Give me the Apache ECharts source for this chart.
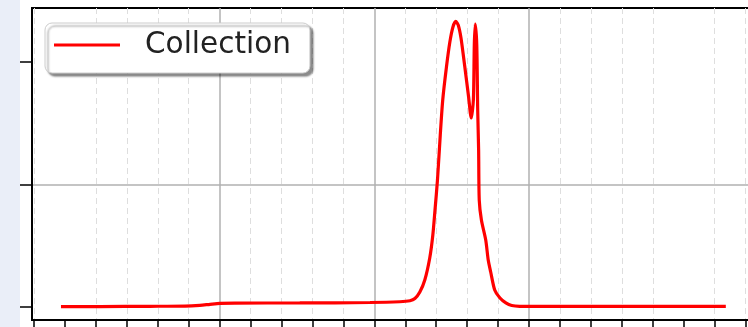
<!DOCTYPE html>
<html>
<head>
<meta charset="utf-8">
<script src="https://cdn.jsdelivr.net/npm/echarts@6/dist/echarts.min.js"></script>
<style>
  html, body { margin: 0; padding: 0; }
  body { background: linear-gradient(90deg, #eaeef8 0, #eaeef8 20px, #ffffff 20px); overflow: hidden; }
  #chart { width: 748px; height: 327px; }
</style>
</head>
<body>
<div id="chart"></div>
<script>
"use strict";
// curve
var xValues = [-0.13, 1.13, 2.75, 3.88, 4.36, 4.69, 5.01, 5.49, 7.59, 9.86, 10.82, 11.15, 11.31, 11.47,
    11.63, 11.79, 11.89, 11.96, 12.04, 12.13, 12.21, 12.33, 12.44, 12.54, 12.63, 12.71, 12.80, 12.92,
    13.05, 13.13, 13.20, 13.23, 13.26, 13.31, 13.34, 13.37, 13.39, 13.46, 13.60, 13.68, 13.76, 13.89,
    14.06, 14.25, 14.44, 14.70, 17.29, 21.36];
var yValues = [0.004, 0.004, 0.006, 0.008, 0.014, 0.022, 0.029, 0.032, 0.033, 0.037, 0.043, 0.051, 0.069, 0.122,
    0.220, 0.400, 0.588, 0.792, 1.037, 1.404, 1.690, 1.959, 2.163, 2.286, 2.331, 2.302, 2.196, 1.967,
    1.706, 1.543, 1.690, 2.139, 2.310, 2.139, 1.608, 1.282, 0.873, 0.710, 0.547, 0.384, 0.286, 0.139,
    0.073, 0.033, 0.012, 0.006, 0.005, 0.005];
var xMajorTicks = [0, 5, 10, 15, 20];
var yTicks = [0, 1, 2];
var seriesName = 'Collection';

var chart = echarts.init(document.getElementById('chart'), null, { renderer: 'canvas' });

var points = xValues.map(function (x, i) { return [x, yValues[i]]; });

var majorGrid = { show: true, showMinLine: false, showMaxLine: false, lineStyle: { color: '#b0b0b0', width: 1.5 } };

var option = {
    animation: false,
    grid: {
        left: 32, top: 8, width: 726, height: 312,
        outerBoundsMode: 'none',
        containLabel: false,
        show: true, backgroundColor: '#ffffff', borderColor: '#000000', borderWidth: 2
    },
    legend: {
        left: 45, top: 23,
        padding: [7, 19, 13, 9],
        icon: 'rect',
        itemWidth: 66, itemHeight: 3,
        backgroundColor: '#ffffff', borderColor: '#cccccc', borderWidth: 1, borderRadius: 7,
        shadowColor: 'rgba(0,0,0,0.45)', shadowBlur: 2, shadowOffsetX: 3, shadowOffsetY: 3,
        textStyle: { fontSize: 29.5, fontFamily: 'DejaVu Sans', color: '#222222', padding: [0, 0, 0, 20] },
        data: [seriesName]
    },
    xAxis: {
        type: 'value',
        min: -1.066, max: 22.4,
        minInterval: 5, maxInterval: 5,
        axisLine: { show: true, onZero: false, lineStyle: { color: '#000000', width: 2 } },
        axisTick: { show: true, customValues: xMajorTicks, length: 8, lineStyle: { color: '#000000', width: 1.5 } },
        minorTick: { show: true, splitNumber: 5, length: 8, lineStyle: { color: '#000000', width: 1.5 } },
        axisLabel: { show: false },
        splitLine: majorGrid,
        minorSplitLine: { show: true, lineStyle: { color: '#dedede', width: 1, type: [6, 4] } }
    },
    yAxis: {
        type: 'value',
        min: -0.106, max: 2.441,
        minInterval: 1, maxInterval: 1,
        axisLine: { show: true, onZero: false, lineStyle: { color: '#000000', width: 2 } },
        axisTick: { show: true, customValues: yTicks, length: 12, lineStyle: { color: '#000000', width: 1.5 } },
        axisLabel: { show: false },
        splitLine: majorGrid
    },
    series: [{
        name: seriesName,
        type: 'line',
        data: points,
        symbol: 'none',
        smooth: 0.25,
        lineStyle: { color: '#ff0000', width: 3.2 },
        itemStyle: { color: '#ff0000' }
    }]
};

chart.setOption(option);
</script>
</body>
</html>
